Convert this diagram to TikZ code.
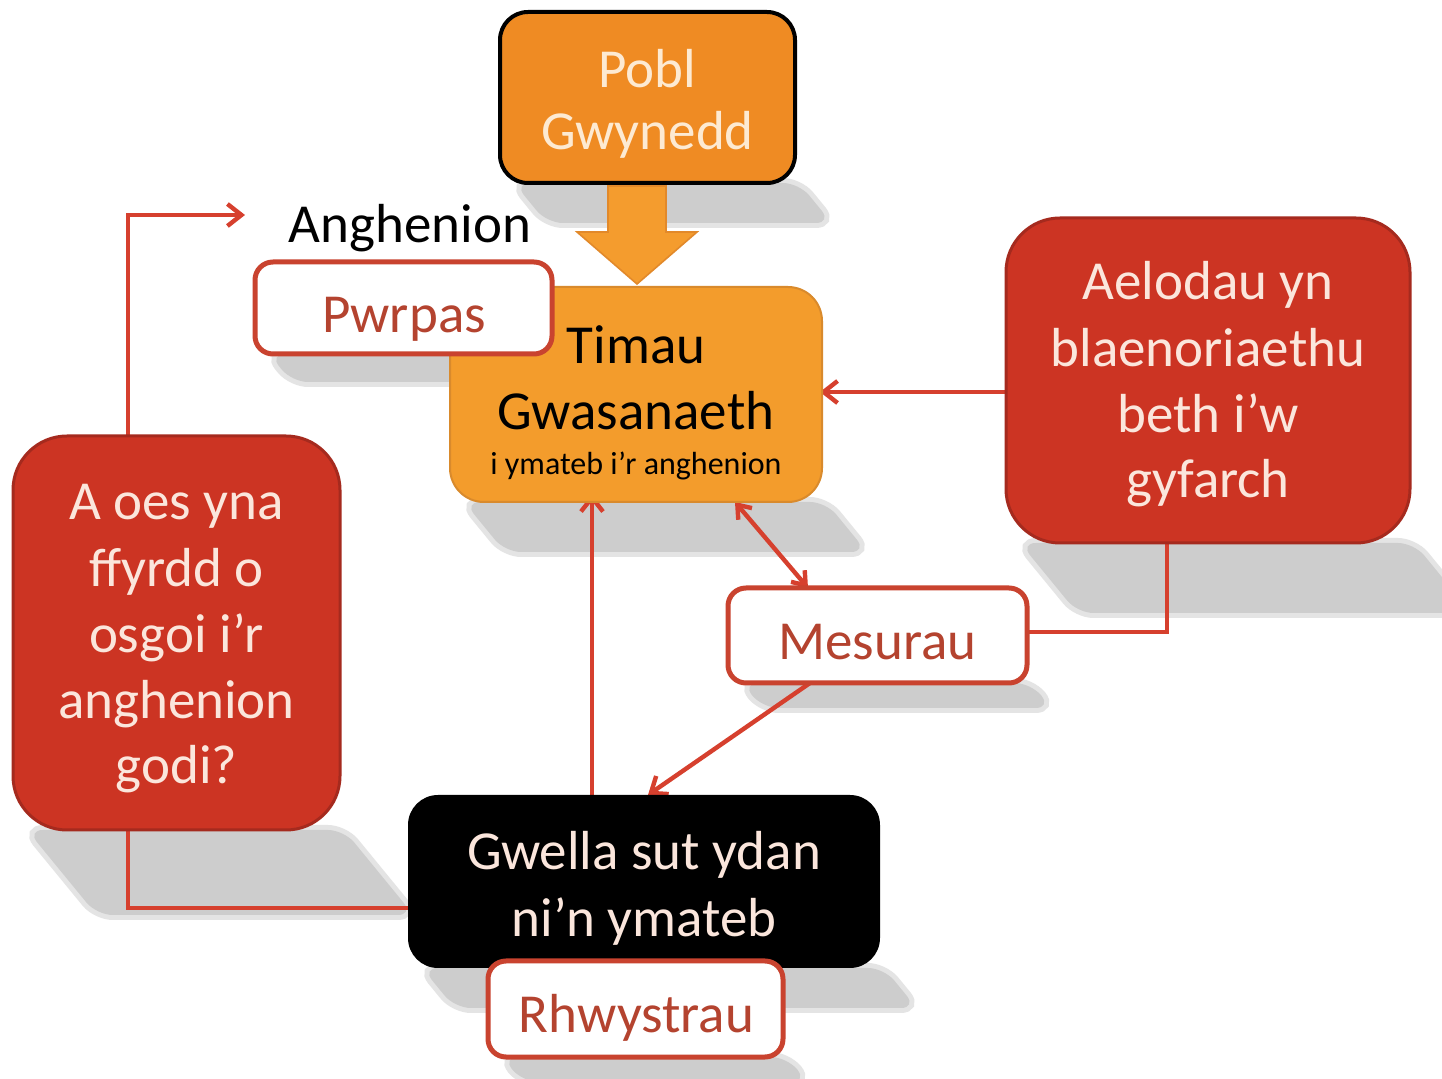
\documentclass[tikz,border=0pt]{standalone}
\usepackage{fontspec}
\setmainfont{Carlito}
\usetikzlibrary{arrows.meta}
\pgfdeclarelayer{shadowlayer}
\pgfdeclarelayer{wirelayer}
\pgfsetlayers{shadowlayer,wirelayer,main}
\definecolor{pobfill}{HTML}{EF8B23}
\definecolor{timfill}{HTML}{F39C2C}
\definecolor{timedge}{HTML}{D98A2C}
\definecolor{redfill}{HTML}{CC3423}
\definecolor{rededge}{HTML}{A52A1E}
\definecolor{conn}{HTML}{D6402E}
\definecolor{wbord}{HTML}{C9432F}
\definecolor{wtext}{HTML}{B4432F}
\definecolor{lighttext}{HTML}{FBE6DC}
\definecolor{creamtext}{HTML}{FDEAD2}
\definecolor{shadowc}{HTML}{CDCDCD}
\definecolor{shadowlt}{HTML}{E4E4E4}
\definecolor{arrowfill}{HTML}{F49C2E}
\definecolor{arrowedge}{HTML}{E2892A}
\newcommand\bigtext{\fontsize{27.5}{33}\selectfont}
\newcommand\smalltext{\fontsize{16}{19}\selectfont}
\newcommand\mkshadow[4]{%
  \draw[shadowlt, line width=5pt, rounded corners=8pt] ({#1+14},#3) -- ({#2+4},#3) -- ({#2+4+0.82*#4},{#3+#4}) -- ({#1+14+0.82*#4},{#3+#4}) -- cycle;
  \fill[shadowc, rounded corners=8pt] ({#1+14},#3) -- ({#2+4},#3) -- ({#2+4+0.82*#4},{#3+#4}) -- ({#1+14+0.82*#4},{#3+#4}) -- cycle;}
\begin{document}
\begin{tikzpicture}[x=0.5pt,y=-0.5pt,
  boxbase/.style={rounded corners=#1, inner sep=0pt, outer sep=0pt},
  pobbox/.style={boxbase=14pt, fill=pobfill, draw=black, line width=2pt},
  timbox/.style={boxbase=17pt, fill=timfill, draw=timedge, line width=1pt},
  redbox/.style={boxbase=27pt, fill=redfill, draw=rededge, line width=1.5pt},
  blackbox/.style={boxbase=15pt, fill=black},
  whitebox/.style={boxbase=9pt, fill=white, draw=wbord, line width=2.5pt},
  bigtxt/.style={font=\bigtext, inner sep=0pt, anchor=base},
  lighttxt/.style={bigtxt, text=lighttext},
  creamtxt/.style={bigtxt, text=creamtext},
  redtxt/.style={bigtxt, text=wtext},
  darktxt/.style={bigtxt, text=black},
  wire/.style={draw=conn, line width=2.2pt},
  endarrow/.style={-{Straight Barb[length=7pt,width=11pt]}},
  bothends/.style={{Straight Barb[length=6pt,width=9pt]}-{Straight Barb[length=6pt,width=9pt]}},
]
\clip (0,0) rectangle (1442,1079);

% boxes, in stacking order
\node[pobbox, minimum width=147.5pt, minimum height=85.5pt] (pobl) at (647.5,97.5) {};
\filldraw[fill=arrowfill, draw=arrowedge, line width=0.8pt]
  (608,186) -- (608,232) -- (577,232) -- (637,284) -- (697,232) -- (666,232) -- (666,186) -- cycle;
\node[timbox, minimum width=186pt, minimum height=107.5pt] (timau) at (636,394.5) {};
\node[whitebox, minimum width=148.5pt, minimum height=46pt] (pwrpas) at (403.5,308) {};
\node[redbox, minimum width=202pt, minimum height=162.5pt] (aelodau) at (1208,380.5) {};
\node[redbox, minimum width=163.5pt, minimum height=197pt] (aoes) at (176.5,633) {};
\node[blackbox, minimum width=236pt, minimum height=86.5pt] (gwella) at (644,881.5) {};
\node[whitebox, minimum width=147.5pt, minimum height=48pt] (rhwy) at (635.5,1009) {};
\node[whitebox, minimum width=149.5pt, minimum height=47.5pt] (mesur) at (877.5,635.5) {};

% shadows
\begin{pgfonlayer}{shadowlayer}
\fill[white] (0,0) rectangle (1442,1079);
\mkshadow{500}{795}{183}{40}
\mkshadow{255}{552}{354}{28}
\mkshadow{450}{822}{502}{50}
\mkshadow{1006}{1410}{543}{70}
\mkshadow{13}{340}{830}{85}
\mkshadow{408}{880}{968}{40}
\mkshadow{488}{783}{1057}{25}
\mkshadow{728}{1027}{683}{25}
\end{pgfonlayer}

% helper coordinates
\coordinate (ax) at (128,0);
\coordinate (atip) at (245,215);
\coordinate (gy) at (0,908);
\coordinate (x592) at (592,0);
\coordinate (y392) at (0,392);
\coordinate (x735) at (735,0);
\coordinate (x808) at (808,0);
\coordinate (x810) at (810,0);
\coordinate (x648) at (648,0);
\coordinate (x1167) at (1167,0);
\coordinate (y632) at (0,632);

% connectors (under the boxes)
\begin{pgfonlayer}{wirelayer}
\draw[wire, endarrow] (aoes.north -| ax) |- (atip);
\draw[wire] (aoes.south -| ax) |- (gwella.west |- gy);
\draw[wire, endarrow, shorten >=-4pt] (gwella.north -| x592) -- (timau.south -| x592);
\draw[wire, endarrow, shorten >=-1pt] (aelodau.west |- y392) -- (timau.east |- y392);
\draw[wire, bothends] (timau.south -| x735) -- (mesur.north -| x808);
\draw[wire, endarrow] (mesur.south -| x810) -- (gwella.north -| x648);
\draw[wire] (aelodau.south -| x1167) |- (mesur.east |- y632);
\end{pgfonlayer}

% texts
\node[creamtxt] (t1) at (647.5,88) {Pobl};
\node[creamtxt] (t2) at (647.5,150) {Gwynedd};
\node[darktxt] (t3) at (410,243) {Anghenion};
\node[redtxt] (t4) at (404,333) {Pwrpas};
\node[darktxt] (t5) at (636,364) {Timau};
\node[darktxt] (t6) at (636,430) {Gwasanaeth};
\node[bigtxt, font=\smalltext] (t7) at (636,475) {i ymateb i’r anghenion};
\node[lighttxt] (t8) at (1208,300) {Aelodau yn};
\node[lighttxt] (t9) at (1208,367) {blaenoriaethu};
\node[lighttxt] (t10) at (1208,433) {beth i’w};
\node[lighttxt] (t11) at (1208,498) {gyfarch};
\node[lighttxt] (t12) at (176.5,520) {A oes yna};
\node[lighttxt] (t13) at (176.5,587) {ffyrdd o};
\node[lighttxt] (t14) at (176.5,653) {osgoi i’r};
\node[lighttxt] (t15) at (176.5,719) {anghenion};
\node[lighttxt] (t16) at (176.5,784) {godi?};
\node[lighttxt] (t17) at (644,870) {Gwella sut ydan};
\node[lighttxt] (t18) at (644,937) {ni’n ymateb};
\node[redtxt] (t19) at (877.5,660) {Mesurau};
\node[redtxt] (t20) at (636.5,1032) {Rhwystrau};
\end{tikzpicture}
\end{document}
